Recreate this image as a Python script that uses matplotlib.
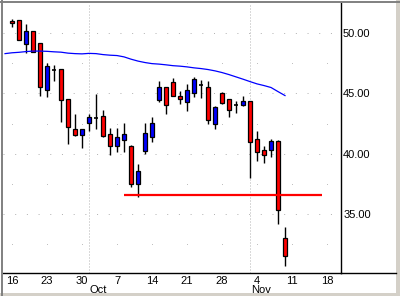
import numpy as np
import matplotlib.pyplot as plt
from matplotlib.lines import Line2D
from matplotlib.patches import Rectangle

plt.rcParams['font.family'] = ['Liberation Sans', 'DejaVu Sans']
plt.rcParams['lines.scale_dashes'] = False

# trading-day index 0 = Sep 16 2002
day_labels = ['16', '23', '30', '7', '14', '21', '28', '4', '11', '18']
day_ticks = [0, 5, 10, 15, 20, 25, 30, 35, 40, 45]
month_labels = ['Oct', 'Nov']
month_starts = [11, 34]

opens = [51.00, 51.08, 49.09, 50.17, 49.17, 45.27, 46.98, 47.01, 44.52, 42.06,
         41.58, 42.58, 43.00, 43.11, 41.62, 40.60, 41.12, 40.64, 37.47, 40.26,
         41.37, 44.44, 45.52, 45.96, 44.77, 44.27, 45.02, 45.71, 45.52, 42.50,
         45.02, 44.52, 44.02, 44.02, 44.36, 41.20, 40.32, 40.29, 41.06, 32.99]
highs = [51.19, 51.10, 50.77, 50.20, 49.20, 47.54, 47.34, 47.05, 44.55, 43.30,
         42.05, 43.28, 44.96, 43.64, 42.14, 42.17, 42.53, 40.70, 39.15, 42.53,
         43.03, 46.04, 45.55, 46.27, 45.21, 45.79, 46.37, 46.12, 46.04, 43.97,
         45.15, 44.55, 44.36, 44.77, 44.40, 41.88, 40.66, 41.22, 41.10, 33.93]
lows = [50.50, 49.40, 48.39, 48.40, 44.82, 44.74, 46.07, 42.66, 40.79, 41.50,
        40.46, 41.92, 42.06, 41.40, 39.93, 40.17, 40.13, 37.27, 36.39, 40.00,
        40.93, 44.32, 43.25, 44.80, 44.08, 43.58, 44.74, 44.60, 42.50, 42.08,
        44.15, 43.03, 43.36, 43.98, 37.95, 39.36, 39.26, 39.76, 34.20, 30.71]
closes = [50.85, 49.42, 50.17, 48.42, 45.52, 47.26, 46.98, 44.44, 42.25, 41.58,
          42.03, 43.05, 43.00, 41.45, 40.62, 41.40, 41.62, 37.47, 38.57, 41.70,
          42.53, 45.52, 44.02, 44.82, 44.52, 45.27, 46.18, 45.71, 42.78, 43.86,
          44.19, 43.61, 44.02, 44.36, 40.95, 40.17, 39.88, 41.04, 35.30, 31.48]

# moving average, first value sits one day before index 0
ma = [48.30, 48.37, 48.41, 48.47, 48.51, 48.51, 48.49, 48.45, 48.42, 48.34,
      48.30, 48.28, 48.32, 48.30, 48.22, 48.17, 48.14, 48.03, 47.84, 47.68,
      47.56, 47.47, 47.43, 47.37, 47.30, 47.26, 47.20, 47.12, 47.06, 46.98,
      46.87, 46.73, 46.56, 46.37, 46.18, 45.98, 45.79, 45.65, 45.49, 45.15,
      44.82]

support = 36.6
support_from, support_to = 16, 44.3

fig = plt.figure(figsize=(4.0, 2.96), dpi=100, facecolor='white')
ax = fig.add_axes([3/400, 23/296, 338/400, 270/296])
ax.set_xlim(-1.29, 47.0)
ax.set_ylim(30.1, 52.5)

# grid
grid_c = '#b4b4b4'
for lv in [32.5, 37.5, 42.5, 47.5]:
    ax.plot(day_ticks, [lv] * len(day_ticks), ls='none', marker='s', ms=0.55,
            mew=0, color=grid_c, zorder=0)
for lv in [35, 40, 45, 50]:
    ax.axhline(lv, color=grid_c, lw=0.72, ls=(0, (0.72, 7.7)), zorder=0)
for m in month_starts:
    ax.axvline(m, color=grid_c, lw=0.72, ls=(0, (0.72, 1.44)), zorder=0)

# candles
x = np.arange(len(opens))
for i in x:
    o, h, l, c = opens[i], highs[i], lows[i], closes[i]
    ax.vlines(i, l, h, color='black', lw=1.0, zorder=2)
    if o == c:
        ax.hlines(o, i - 0.33, i + 0.33, color='black', lw=1.2, zorder=3)
    else:
        col = '#0000ff' if c > o else '#ff0000'
        ax.bar(i, abs(c - o), bottom=min(o, c), width=0.66, color=col,
               edgecolor='black', linewidth=0.9, zorder=3)

ax.plot(np.arange(len(ma)) - 1, ma, color='#0000ff', lw=0.9, zorder=4)
ax.hlines(support, support_from, support_to, color='#ff0000', lw=1.6, zorder=5)

# axes styling
for s in ['top', 'left']:
    ax.spines[s].set_visible(False)
ax.spines['right'].set_linewidth(1.0)
ax.spines['bottom'].set_linewidth(1.0)
ax.yaxis.tick_right()
ax.set_yticks([35, 40, 45, 50])
ax.set_yticklabels(['%.2f' % v for v in [35, 40, 45, 50]])
ax.set_xticks(day_ticks)
ax.set_xticklabels(day_labels)
ax.tick_params(axis='y', length=0, pad=1.5, labelsize=8)
ax.tick_params(axis='x', length=0, pad=2.2, labelsize=8)
for m, lab in zip(month_starts, month_labels):
    ax.annotate(lab, xy=(m, 0), xycoords=('data', 'axes fraction'),
                xytext=(0.5, -8.8), textcoords='offset points',
                ha='left', va='top', fontsize=8)

# bottom axis line runs under the price labels
fig.add_artist(Line2D([341/400, 396/400], [23/296, 23/296], color='black', lw=1.0))

# window frame
fig.add_artist(Rectangle((0, 0), 1, 3/296, color='#d4d0c8', lw=0))
fig.add_artist(Rectangle((396/400, 0), 4/400, 1, color='#d4d0c8', lw=0))
fig.add_artist(Line2D([0, 1], [1 - 1.5/296, 1 - 1.5/296], color='#808080', lw=1.4))
fig.add_artist(Line2D([1.5/400, 1.5/400], [0, 1], color='#808080', lw=1.4))

fig.savefig('out.png', dpi=100, facecolor='white')
